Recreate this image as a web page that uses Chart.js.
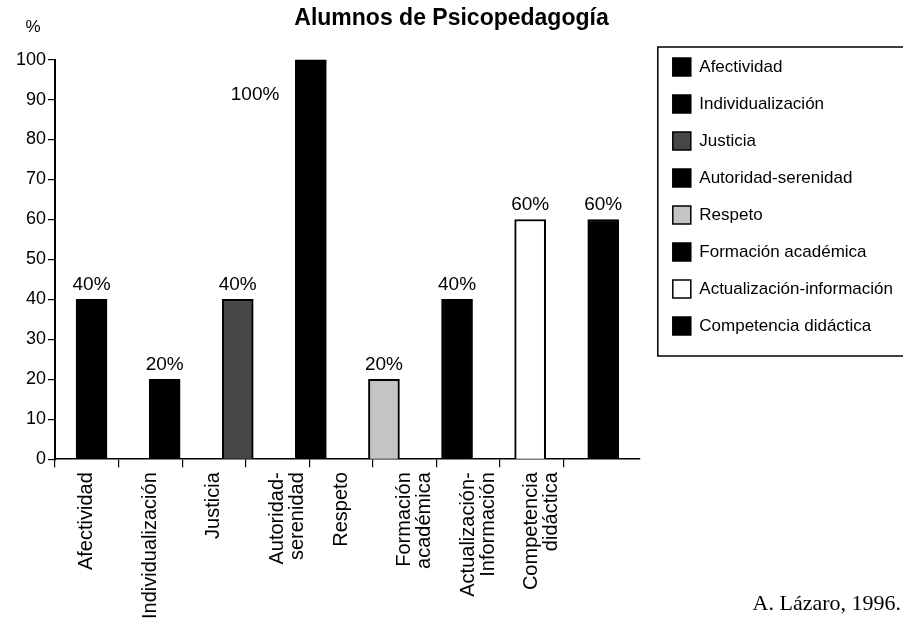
<!DOCTYPE html>
<html>
<head>
<meta charset="utf-8">
<script src="https://cdn.jsdelivr.net/npm/chart.js@4.4.0/dist/chart.umd.min.js"></script>
<style>
    html, body { margin: 0; padding: 0; background: #fff; }
</style>
</head>
<body>
<canvas id="grafikon" width="903" height="624"></canvas>
<script>
var categorias = ["Afectividad", "Individualización", "Justicia", "Autoridad-serenidad",
                  "Respeto", "Formación académica", "Actualización-información", "Competencia didáctica"];
var etiquetasEje = [["Afectividad"], ["Individualización"], ["Justicia"], ["Autoridad-", "serenidad"],
                    ["Respeto"], ["Formación", "académica"], ["Actualización-", "Información"], ["Competencia", "didáctica"]];
var porcentajes = [40, 20, 40, 100, 20, 40, 60, 60];
var colores = ['#000000', '#000000', '#474747', '#000000', '#c4c4c4', '#000000', '#ffffff', '#000000'];
var titulo = "Alumnos de Psicopedagogía";
var fuente = "A. Lázaro, 1996.";

Chart.defaults.font.family = '"Liberation Sans", Arial, sans-serif';
Chart.defaults.color = '#000';

var extras = {
    id: 'extras',
    afterDatasetsDraw: function (chart) {
        var ctx = chart.ctx;
        var meta = chart.getDatasetMeta(0);
        ctx.save();
        ctx.fillStyle = '#000';
        ctx.font = '19px "Liberation Sans"';
        meta.data.forEach(function (bar, i) {
            var txt = porcentajes[i] + '%';
            if (bar.y - 30 < chart.chartArea.top) {
                ctx.textAlign = 'right';
                ctx.fillText(txt, bar.x - bar.width / 2 - 16, bar.y + 40);
            } else {
                ctx.textAlign = 'center';
                ctx.fillText(txt, bar.x, bar.y - 9);
            }
        });
        ctx.restore();
    },
    afterDraw: function (chart) {
        var ctx = chart.ctx;
        ctx.save();
        ctx.fillStyle = '#000';
        ctx.font = '17px "Liberation Sans"';
        ctx.textAlign = 'center';
        ctx.fillText('%', 33, 32);

        ctx.font = '22px "Liberation Serif"';
        ctx.textAlign = 'right';
        ctx.fillText(fuente, 901, 610);

        // marco de la leyenda
        var hb = chart.legend.legendHitBoxes;
        if (hb && hb.length) {
            var prvi = hb[0];
            var zadnji = hb[hb.length - 1];
            ctx.strokeStyle = '#000';
            ctx.lineWidth = 1.5;
            ctx.strokeRect(prvi.left - 15, prvi.top - 11, 320,
                zadnji.top + zadnji.height - prvi.top + 32);
        }
        ctx.restore();
    }
};

new Chart("grafikon", {
    type: "bar",
    data: {
        labels: categorias,
        datasets: [{
            data: porcentajes,
            backgroundColor: colores,
            borderColor: '#000',
            borderWidth: 2,
            barThickness: 31,
            xAxisID: 'xb',
            yAxisID: 'y'
        }]
    },
    options: {
        responsive: false,
        animation: false,
        layout: {padding: {left: 0, right: 0, top: 0, bottom: 0}},
        plugins: {
            title: {
                display: true,
                text: titulo,
                color: '#000',
                font: {size: 23, weight: 'bold'},
                padding: {top: 5, bottom: 27}
            },
            legend: {
                position: 'right',
                align: 'start',
                maxWidth: 262,
                title: {display: true, text: '', font: {size: 20, lineHeight: 1}, padding: {top: 0, bottom: 19}},
                labels: {
                    boxWidth: 18,
                    boxHeight: 18,
                    padding: 19,
                    color: '#000',
                    font: {size: 17},
                    generateLabels: function () {
                        return categorias.map(function (c, i) {
                            return {
                                text: c,
                                fillStyle: colores[i],
                                strokeStyle: '#000',
                                lineWidth: 1.5,
                                hidden: false,
                                index: i
                            };
                        });
                    }
                }
            },
            tooltip: {enabled: false}
        },
        scales: {
            xb: {
                type: 'category',
                display: false,
                offset: true
            },
            x: {
                type: 'linear',
                position: 'bottom',
                min: 0,
                max: 9.2,
                offset: false,
                afterBuildTicks: function (eje) {
                    eje.ticks = etiquetasEje.map(function (e, i) {
                        return {value: i + 0.5};
                    });
                },
                ticks: {
                    autoSkip: false,
                    minRotation: 90,
                    maxRotation: 90,
                    padding: 5,
                    color: '#000',
                    font: {size: 20, lineHeight: 1},
                    callback: function (v, i) {
                        return etiquetasEje[i];
                    }
                },
                grid: {offset: true, drawOnChartArea: false, tickLength: 8, color: '#000', lineWidth: 1.2},
                border: {color: '#000', width: 1.5}
            },
            y: {
                min: 0,
                max: 100,
                afterFit: function (eje) {
                    eje.width = 55;
                },
                ticks: {stepSize: 10, padding: 2, color: '#000', font: {size: 18}},
                grid: {drawOnChartArea: false, tickLength: 7, color: '#000', lineWidth: 1.2},
                border: {color: '#000', width: 2}
            },
            // espacio vacío entre el gráfico y la leyenda
            hueco: {
                type: 'linear',
                position: 'right',
                afterFit: function (eje) {
                    eje.width = 14;
                },
                ticks: {display: false},
                grid: {display: false},
                border: {display: false}
            }
        }
    },
    plugins: [extras]
});
</script>
</body>
</html>
